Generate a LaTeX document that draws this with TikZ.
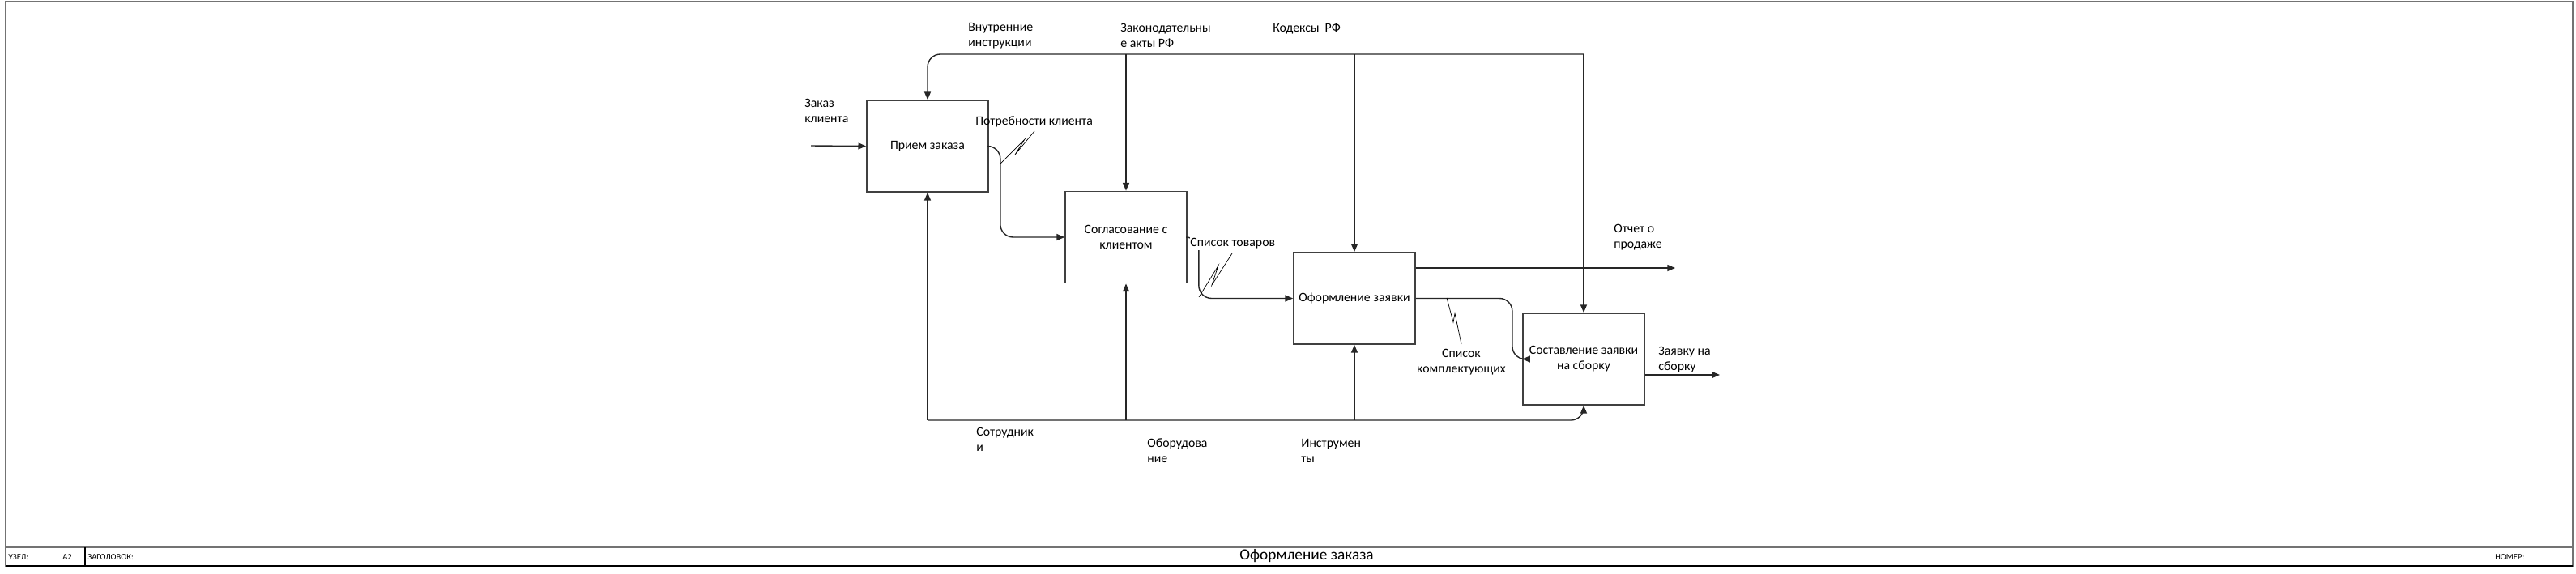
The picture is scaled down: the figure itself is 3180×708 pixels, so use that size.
\documentclass[tikz,border=0pt]{standalone}
\usepackage{fontspec}
\setmainfont{Carlito}
\usetikzlibrary{arrows.meta,positioning}

\begin{document}
\begin{tikzpicture}[x=0.02cm, y=-0.02cm,
            every node/.style={font=\fontsize{9}{10.8}\selectfont, inner sep=0pt},
            func/.style={rectangle, draw=black!75, line width=1pt, fill=white,
                minimum width=3cm, minimum height=2.26cm, align=center},
            flow/.style={draw=black!85, line width=0.8pt, -{Triangle[length=5.5pt,width=4.5pt]}},
            lbl/.style={anchor=west, align=left},
            squig/.style={draw=black, line width=0.4pt},
            frame/.style={draw=black!55, line width=1pt}
        ]
            \useasboundingbox (0,0) rectangle (3180,708);
            % sheet and title block
            \draw[frame] (7,2) rectangle (3176,699);
            \draw[frame] (7,676) -- (3176,676);
            \draw[black, line width=1pt] (7,699) -- (3176,699);
            \draw[black, line width=0.6pt] (105,676) -- (105,699);
            \draw[black, line width=0.6pt] (3077,676) -- (3077,699);
            \node[anchor=west, font=\fontsize{6}{7}\selectfont] (uzel) at (10,688) {УЗЕЛ:};
            \node[anchor=west, font=\fontsize{6}{7}\selectfont] (nomuzel) at (77,688) {А2};
            \node[anchor=west, font=\fontsize{6}{7}\selectfont] (zag) at (108,688) {ЗАГОЛОВОК:};
            \node[anchor=west, font=\fontsize{6}{7}\selectfont] (nomer) at (3080,688) {НОМЕР:};
            \node[font=\fontsize{11}{13}\selectfont] (title) at (1613,687) {Оформление заказа};

            % functional blocks
            \node[func] (priem) at (1145,180.5) {Прием заказа};
            \node[func] (soglas) at (1390,293) {Согласование с\\клиентом};
            \node[func] (oform) at (1672,368.5) {Оформление заявки};
            \node[func] (sost) at (1955,443.5) {Составление заявки\\на сборку};

            \coordinate (vhod) at (1001,180);
            \coordinate (upr) at (1955,67);
            \coordinate (mech) at (1145,519);
            \coordinate (otchet) at (2068,331);
            \coordinate (vyhod) at (2123,463);

            % input, controls
            \draw[flow] (vhod) -- (priem.west);
            \draw[flow, rounded corners=9pt] (upr) -| (priem.north);
            \draw[flow] (upr) -- (sost.north);
            \draw[flow] (soglas.north |- upr) -- (soglas.north);
            \draw[flow] (oform.north |- upr) -- (oform.north);

            % mechanisms
            \draw[flow] (mech) -- (priem.south);
            \draw[flow, rounded corners=9pt] (mech) -| (sost.south);
            \draw[flow] (soglas.south |- mech) -- (soglas.south);
            \draw[flow] (oform.south |- mech) -- (oform.south);

            % outputs
            \draw[flow, rounded corners=9pt] (priem.east) -- ++(14,0) |- (soglas.west);
            \draw[flow, rounded corners=9pt] (soglas.east) -- ++(14,0) |- (oform.west);
            \draw[flow, rounded corners=9pt] (oform.east) -- ++(119,0) |- (sost.west);
            \draw[flow] (oform.east |- otchet) -- (otchet);
            \draw[flow] (sost.east |- vyhod) -- (vyhod);

            % arrow labels
            \node[lbl] (lzakaz) at (993,137) {Заказ\\клиента};
            \node[lbl] (lvnutr) at (1195,44) {Внутренние\\инструкции};
            \node[lbl] (lzakon) at (1383,44) {Законодательны\\е акты РФ};
            \node[lbl] (lkodeks) at (1571,35) {Кодексы~ РФ};
            \node[lbl] (lpotreb) at (1204,150) {Потребности клиента};
            \node[lbl, fill=white, inner ysep=1pt] (lspisok) at (1469,301) {Список товаров};
            \node[lbl] (lotchet) at (1992,293) {Отчет о\\продаже};
            \node[align=center] (lkompl) at (1804,447) {Список\\комплектующих};
            \node[lbl] (lzayavka) at (2047,444) {Заявку на\\сборку};
            \node[lbl] (lsotr) at (1205,543) {Сотрудник\\и};
            \node[lbl] (lobor) at (1416,557) {Оборудова\\ние};
            \node[lbl] (linstr) at (1606,557) {Инструмен\\ты};

            % squiggles
            \draw[squig] (1235,202) -- (1265,172) -- (1253,191) -- (1277,162);
            \draw[squig] (1480,367) -- (1504,328) -- (1496,352) -- (1521,313);
            \draw[squig] (1786,368) -- (1794,398) -- (1796,387) -- (1804,425);
        \end{tikzpicture}
\end{document}
